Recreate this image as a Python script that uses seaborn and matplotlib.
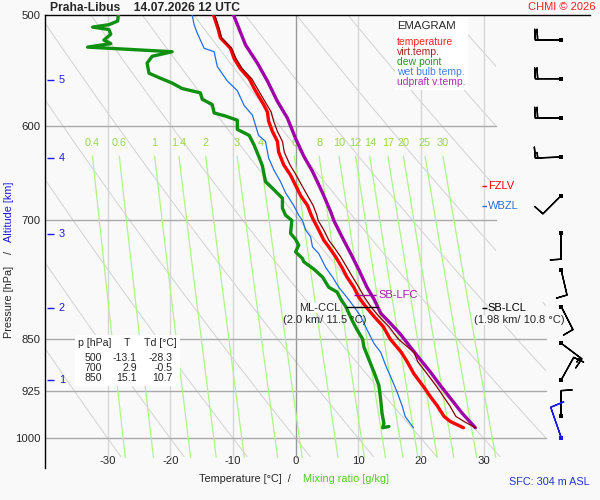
import numpy as np
import matplotlib
matplotlib.use('Agg')
import matplotlib.pyplot as plt
import seaborn as sns
from matplotlib.patches import Polygon, Rectangle
from matplotlib.ticker import NullLocator

# sounding values
temp_p = [500, 511, 519, 528, 537, 546, 555, 564, 571, 579, 586, 595, 605, 615,
          626, 639, 650, 661, 672, 683, 694, 700, 711, 723, 731, 743, 756, 768,
          781, 794, 806, 819, 833, 850, 869, 882, 900, 920, 934, 948, 965, 973, 983]
temp_t = [-13.1, -12.4, -12.0, -10.4, -9.8, -8.8, -7.4, -6.6, -5.9, -5.1, -4.5, -4.3, -3.7, -2.9,
          -2.7, -1.9, -0.8, 0.0, 0.8, 1.9, 2.5, 2.9, 3.7, 4.5, 5.3, 6.4, 7.4, 8.2,
          9.3, 10.1, 11.2, 12.5, 14.0, 15.1, 16.9, 17.8, 18.9, 20.5, 21.5, 22.6, 23.7, 24.7, 26.8]
virt_t = [-12.9, -12.2, -11.8, -10.2, -9.5, -8.5, -7.0, -6.1, -5.4, -4.6, -3.9, -3.5, -2.9, -2.1,
          -1.8, -0.9, 0.1, 1.0, 1.9, 2.8, 3.4, 3.6, 4.5, 5.3, 6.1, 7.2, 8.2, 9.1,
          10.1, 11.0, 12.0, 13.3, 14.9, 16.4, 18.9, 19.5, 21.0, 22.6, 23.6, 24.6, 25.6, 26.9, 28.7]

dew_p = [500, 505, 508, 510, 512, 516, 521, 524, 527, 531,
         535, 541, 550, 554, 559, 564, 568, 574, 579, 587,
         590, 594, 603, 609, 619, 630, 640, 657, 664, 675,
         686, 694, 700, 715, 722, 729, 737, 745, 749, 758,
         768, 781, 787, 796, 806, 824, 837, 850, 861, 879,
         897, 917, 940, 960, 976, 983, 981]
dew_t = [-28.3, -28.4, -29.8, -32.4, -29.8, -29.5, -30.6, -29.5, -33.2, -19.7,
         -22.9, -23.7, -23.4, -21.8, -19.7, -18.1, -15.2, -14.9, -13.3, -13.0,
         -11.2, -9.3, -9.3, -7.4, -6.6, -5.9, -5.3, -4.8, -3.7, -2.1,
         -2.1, -1.6, -0.6, -0.8, 0.0, 0.5, 0.0, 1.1, 1.3, 2.9,
         4.3, 5.3, 6.6, 7.2, 8.0, 9.0, 9.8, 10.7, 10.9, 11.7,
         12.5, 13.3, 13.6, 13.8, 14.1, 13.9, 14.9]

wet_p = [500, 508, 515, 528, 531, 544, 557, 566, 580, 589,
         609, 615, 632, 644, 657, 669, 683, 694, 700, 711,
         719, 731, 739, 756, 768, 781, 794, 806, 819, 837,
         856, 869, 888, 909, 927, 948, 965, 983]
wet_t = [-16.5, -16.2, -15.7, -14.6, -13.0, -12.5, -10.9, -9.3, -8.2, -6.9,
         -5.9, -4.8, -4.3, -3.5, -2.4, -1.6, -0.3, 0.5, 1.1, 1.6,
         2.4, 2.7, 3.7, 4.8, 5.9, 6.9, 8.2, 9.3, 10.4, 11.4,
         12.5, 13.6, 14.4, 15.4, 16.2, 17.0, 17.5, 18.8]

parcel_p = [500, 525, 541, 557, 576, 592, 612, 630, 646, 669, 690, 700, 719, 739,
            759, 781, 796, 815, 829, 843, 861, 879, 897, 917, 940, 960, 983]
parcel_t = [-9.9, -8.0, -6.1, -4.5, -2.9, -1.3, 0.0, 1.3, 2.7, 4.3, 5.6, 6.1, 7.4, 8.8,
            10.1, 11.4, 12.5, 13.6, 15.2, 16.7, 18.3, 19.9, 21.5, 23.1, 25.0, 26.6, 28.7]

wind_p = [521, 555, 592, 631, 672, 715, 759, 806, 856, 909, 965]
wind_dir = [270, 270, 270, 268, 225, 180, 167, 153, 127, 29, 0]
wind_kt = [20, 20, 20, 15, 10, 10, 10, 10, 15, 10, 10]
sfc_wind_p, sfc_wind_dir, sfc_wind_kt = 999, 341, 10

alt_km = [1, 2, 3, 4, 5]
alt_p = [909, 808, 716, 632, 556]

table_p = [500, 700, 850]
table_t = [-13.1, 2.9, 15.1]
table_td = [-28.3, -0.5, 10.7]

mix_ratios = [0.4, 0.6, 1, 1.4, 2, 3, 4, 6, 8, 10, 12, 14, 17, 20, 25, 30]
p_ticks = [500, 600, 700, 850, 925, 1000]
t_ticks = [-30, -20, -10, 0, 10, 20, 30]

fzlv_p = 662
wbzl_p = 684
lfc_p = 791
ccl_p = 806
lcl_p = 808

sns.set_style('white')
plt.rcParams['font.family'] = ['Liberation Sans', 'DejaVu Sans']


def px(x, y):
    # pixel position -> figure fraction
    return x / 600, 1 - y / 500


fig = plt.figure(figsize=(6, 5), dpi=100, facecolor='#f9f9f9')
ax = fig.add_axes([45 / 600, 1 - 468 / 500, 545 / 600, 453 / 500])
ax.set_facecolor('none')
ax.set_yscale('log')
ax.set_xlim(-40, 47)
ax.set_ylim(1050, 500)

# background region of the diagram
clip = Polygon([(-40, 500), (32, 500), (32, 800), (40, 800), (40, 1032), (-40, 1032)],
               closed=True, transform=ax.transData, fill=False, edgecolor='none')

pp = np.linspace(500, 1032, 120)
for th in range(-30, 170, 10):
    tt = (th + 273.15) * (pp / 1000) ** 0.2857 - 273.15
    ln, = ax.plot(tt, pp, color='#d2d2d2', lw=0.7, zorder=1)
    ln.set_clip_path(clip)

for t in t_ticks:
    ax.plot([t, t], [500, 1032], color='#999999' if t == 0 else '#d6d6d6', lw=1, zorder=1)

for p in p_ticks[1:]:
    ax.plot([-40, 32 if p < 800 else 40], [p, p], color='#aaaaaa', lw=1, zorder=1)

pm = np.linspace(630, 1032, 60)
for w in mix_ratios:
    lg = np.log(w * pm / (622 + w) / 6.112)
    td = 243.5 * lg / (17.67 - lg)
    ax.plot(td, pm, color='#aef58a', lw=0.9, zorder=1.5)
    ax.text(td[0], 617, f'{w:g}', color='#9ad84e', fontsize=7.8, ha='center', va='center', zorder=1.5)

# profiles
sns.lineplot(x=temp_t, y=temp_p, sort=False, estimator=None, color='#ff0000', lw=2.4, ax=ax, zorder=4)
sns.lineplot(x=virt_t, y=temp_p, sort=False, estimator=None, color='#8b0000', lw=0.9, ax=ax, zorder=4.5)
sns.lineplot(x=dew_t, y=dew_p, sort=False, estimator=None, color='#0f9010', lw=2.4, ax=ax, zorder=4)
sns.lineplot(x=wet_t, y=wet_p, sort=False, estimator=None, color='#1f6fe8', lw=0.9, ax=ax, zorder=4)
sns.lineplot(x=parcel_t, y=parcel_p, sort=False, estimator=None, color='#a000a8', lw=2.4, ax=ax, zorder=4)

# levels
ax.hlines(lfc_p, 9.4, 12.8, color='#a000a8', lw=1, zorder=5)
ax.hlines(ccl_p, 8.0, 13.1, color='black', lw=1, zorder=5)
ax.hlines([fzlv_p, wbzl_p, lcl_p], 29.7, 30.5, color=['#ff0000', '#2a6fdc', 'black'], lw=1, zorder=5)
box = dict(facecolor='white', edgecolor='none', pad=0.6)
ax.text(30.7, fzlv_p, 'FZLV', color='#ff0000', fontsize=8, va='center', bbox=box, zorder=5)
ax.text(30.7, wbzl_p, 'WBZL', color='#2a6fdc', fontsize=8, va='center', bbox=box, zorder=5)
ax.text(30.7, lcl_p, 'SB-LCL', color='black', fontsize=8, va='center', zorder=5)
fig.text(*px(519, 320), '(1.98 km/ 10.8 °C)', fontsize=8, ha='center', va='center',
         bbox=dict(facecolor='#f9f9f9', edgecolor='none', pad=0.3), zorder=5)
ax.text(13.2, lfc_p, 'SB-LFC', color='#a020a8', fontsize=8, va='center', zorder=5)
fig.text(*px(320, 308), 'ML-CCL', fontsize=8, ha='center', va='center',
         bbox=dict(facecolor='white', edgecolor='none', pad=0.3), zorder=5)
fig.text(*px(325, 320), '(2.0 km/ 11.5 °C)', fontsize=8, ha='center', va='center', zorder=5)

# altitude marks
ax.hlines(alt_p, -39.7, -38.6, color='#1a1ae6', lw=1, zorder=5)
for km, p in zip(alt_km, alt_p):
    ax.text(-37.8, p, str(km), color='#1a1ae6', fontsize=7.8, va='center', zorder=5)

# wind barbs
wd = np.radians(wind_dir)
u = -np.array(wind_kt) * np.sin(wd)
v = -np.array(wind_kt) * np.cos(wd)
bx = np.full(len(wind_p), 42.4)
bsize = dict(spacing=0.09, height=0.42, width=0.05, emptybarb=0.0)
ax.barbs(bx, wind_p, u, v, length=6.1, sizes=bsize, lw=1, color='black', zorder=5)
ax.scatter(bx, wind_p, marker='s', s=5, color='black', zorder=6, linewidths=0)
sd = np.radians(sfc_wind_dir)
ax.barbs([42.4], [sfc_wind_p], [-sfc_wind_kt * np.sin(sd)], [-sfc_wind_kt * np.cos(sd)],
         length=6.9, sizes=bsize, lw=1, color='#1a1ae6', zorder=5)
ax.scatter([42.4], [sfc_wind_p], marker='s', s=5, color='#1a1ae6', zorder=6, linewidths=0)

# axes styling
for side in ['right', 'bottom']:
    ax.spines[side].set_visible(False)
for side in ['left', 'top']:
    ax.spines[side].set_color('black')
    ax.spines[side].set_linewidth(1)
ax.set_yticks(p_ticks, [str(p) for p in p_ticks])
ax.yaxis.set_minor_locator(NullLocator())
ax.set_xticks(t_ticks, [str(t) for t in t_ticks])
ax.tick_params(axis='y', length=0, pad=3, labelsize=8.2)
ax.tick_params(axis='x', length=0, pad=-8.5, labelsize=8.2)
ax.set_xlabel('')
ax.set_ylabel('')

# legend box
fig.patches.append(Rectangle(px(395, 90), 73 / 600, 73 / 500, transform=fig.transFigure,
                             facecolor='white', edgecolor='none', zorder=6))
fig.text(*px(397, 26), 'EMAGRAM', fontsize=8.2, va='center', zorder=7)
legend_items = [('temperature', '#ff2020'), ('virt.temp.', '#a82020'), ('dew point', '#1f9a1f'),
                ('wet bulb temp.', '#3f7fe8'), ('udpraft v.temp.', '#b02ab0')]
for i, (name, col) in enumerate(legend_items):
    fig.text(*px(397, 42 + 10 * i), name, color=col, fontsize=7.5, va='center', zorder=7)

# table box
fig.patches.append(Rectangle(px(75, 386), 105 / 600, 51 / 500, transform=fig.transFigure,
                             facecolor='white', edgecolor='none', zorder=6))
fig.text(*px(78, 343), 'p [hPa]', fontsize=7.6, va='center', zorder=7)
fig.text(*px(127, 343), 'T', fontsize=7.6, va='center', ha='center', zorder=7)
fig.text(*px(144, 343), 'Td [°C]', fontsize=7.6, va='center', zorder=7)
for i in range(len(table_p)):
    y = 358 + 10 * i
    fig.text(*px(102, y), str(table_p[i]), fontsize=7.6, va='center', ha='right', zorder=7)
    fig.text(*px(137, y), f'{table_t[i]:.1f}', fontsize=7.6, va='center', ha='right', zorder=7)
    fig.text(*px(173, y), f'{table_td[i]:.1f}', fontsize=7.6, va='center', ha='right', zorder=7)

# titles and axis labels
fig.text(*px(50, 8), 'Praha-Libus    14.07.2026 12 UTC', fontsize=8.7, weight='bold', va='center')
fig.text(*px(596, 7), 'CHMI © 2026', color='#ee2222', fontsize=8, ha='right', va='center')
fig.text(*px(9, 302), 'Pressure [hPa]', fontsize=7.8, rotation=90, ha='center', va='center')
fig.text(*px(9, 253), '/', fontsize=7.8, rotation=90, ha='center', va='center')
fig.text(*px(9, 212), 'Altitude [km]', fontsize=7.8, rotation=90, ha='center', va='center', color='#1a1ae6')
fig.text(*px(291, 479), 'Temperature [°C]  /', fontsize=7.8, ha='right', va='center')
fig.text(*px(303, 479), 'Mixing ratio [g/kg]', fontsize=7.8, ha='left', va='center', color='#55cc22')
fig.text(*px(590, 482), 'SFC: 304 m ASL', fontsize=7.8, ha='right', va='center', color='#2233dd')

fig.savefig('out.png', dpi=100, facecolor=fig.get_facecolor())
